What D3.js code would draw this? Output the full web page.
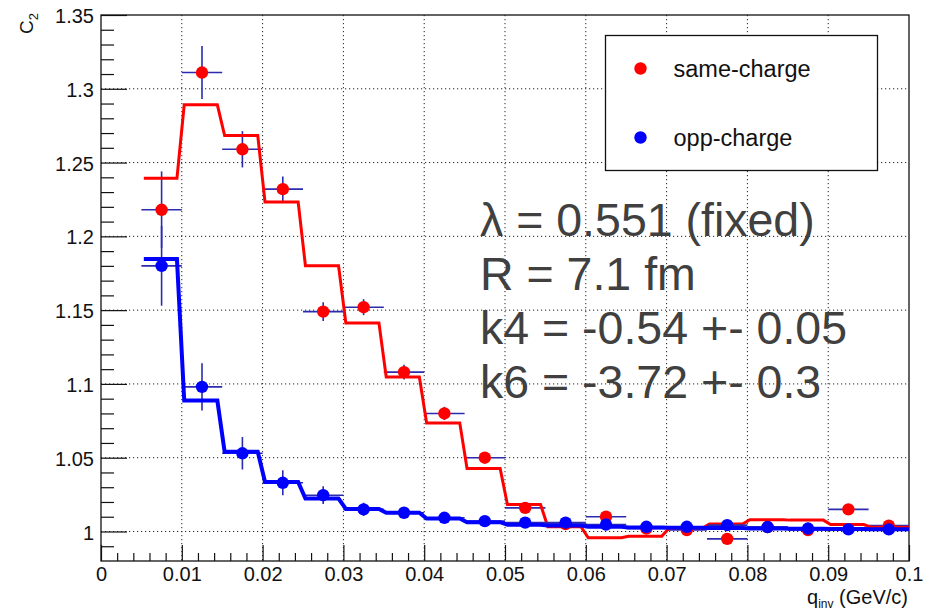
<!DOCTYPE html>
<html>
<head>
<meta charset="utf-8">
<script src="https://cdn.jsdelivr.net/npm/d3@7"></script>
<style>
  body { margin: 0; background: #fff; }
  text { font-family: "Liberation Sans", Arial, Helvetica, sans-serif; }
</style>
</head>
<body>
<svg id="chart" width="937" height="612"></svg>
<script>
// ---- data -------------------------------------------------------------
// q_inv bin centres (GeV/c); each bin is 0.005 wide
const qCenters = [0.0075, 0.0125, 0.0175, 0.0225, 0.0275, 0.0325, 0.0375, 0.0425, 0.0475,
                  0.0525, 0.0575, 0.0625, 0.0675, 0.0725, 0.0775, 0.0825, 0.0875, 0.0925, 0.0975];
const binHalfWidth = 0.0025;

// measured C2, same-charge pairs
const sameCharge    = [1.218, 1.311, 1.259, 1.232, 1.149, 1.152, 1.108, 1.080, 1.050,
                       1.016, 1.005, 1.010, 1.002, 1.001, 0.995, 1.003, 1.001, 1.015, 1.004];
const sameChargeErr = [0.026, 0.018, 0.0123, 0.0085, 0.0064, 0.0054, 0.005, 0.0045, 0.0035,
                       0.003, 0.003, 0.003, 0.003, 0.003, 0.003, 0.003, 0.003, 0.003, 0.003];

// measured C2, opposite-charge pairs
const oppCharge     = [1.180, 1.098, 1.053, 1.033, 1.0246, 1.015, 1.0127, 1.0093, 1.007,
                       1.006, 1.006, 1.0047, 1.0032, 1.0032, 1.0043, 1.003, 1.002, 1.0014, 1.0014];
const oppChargeErr  = [0.027, 0.016, 0.011, 0.0085, 0.006, 0.0045, 0.0035, 0.003, 0.0025,
                       0.002, 0.002, 0.002, 0.002, 0.002, 0.002, 0.002, 0.002, 0.002, 0.002];

// fitted correlation function, evaluated per bin (edges below)
const fitEdges = [0.005, 0.010, 0.015, 0.020, 0.025, 0.030, 0.035, 0.040, 0.045, 0.050,
                  0.055, 0.060, 0.065, 0.070, 0.075, 0.080, 0.085, 0.090, 0.095, 0.100];
const sameFit = [1.2394, 1.2891, 1.2683, 1.2232, 1.1801, 1.1413, 1.1047, 1.0736, 1.0427,
                 1.0183, 1.0032, 0.9957, 0.9968, 1.0022, 1.0050, 1.0079, 1.0077, 1.0047, 1.0029];
const oppFit  = [1.1846, 1.0887, 1.0540, 1.0336, 1.0223, 1.0153, 1.0127, 1.0088, 1.0063,
                 1.0045, 1.0040, 1.0032, 1.0027, 1.0025, 1.0023, 1.0021, 1.0019, 1.0017, 1.0015];

// axis ticks
const xTicks = [0, 0.01, 0.02, 0.03, 0.04, 0.05, 0.06, 0.07, 0.08, 0.09, 0.1];
const yTicks = [1, 1.05, 1.1, 1.15, 1.2, 1.25, 1.3, 1.35];
const xDomain = [0, 0.1];
const yDomain = [0.98, 1.35];

const legendLabels = ["same-charge", "opp-charge"];
const fitResults = ["λ = 0.551 (fixed)", "R = 7.1 fm", "k4 = -0.54 +- 0.05", "k6 = -3.72 +- 0.3"];

// ---- layout -----------------------------------------------------------
const svg = d3.select("#chart");
const W = 937, H = 612;
const margin = { left: 101, top: 15, right: 28, bottom: 51 };
const iw = W - margin.left - margin.right;
const ih = H - margin.top - margin.bottom;

svg.append("rect").attr("width", W).attr("height", H).attr("fill", "#fff");

const x = d3.scaleLinear().domain(xDomain).range([0, iw]);
const y = d3.scaleLinear().domain(yDomain).range([ih, 0]);

const g = svg.append("g").attr("transform", `translate(${margin.left},${margin.top})`);

const fmt = d3.format("~g");

// dotted grid at the major ticks
const grid = g.append("g").attr("stroke", "#222").attr("stroke-width", 1)
  .attr("stroke-dasharray", "1.2,2.8");
grid.selectAll("line.gx").data(xTicks.filter(t => t > xDomain[0] && t < xDomain[1]))
  .join("line").attr("class", "gx")
  .attr("x1", d => x(d)).attr("x2", d => x(d)).attr("y1", 0).attr("y2", ih);
grid.selectAll("line.gy").data(yTicks.filter(t => t > yDomain[0] && t < yDomain[1]))
  .join("line").attr("class", "gy")
  .attr("y1", d => y(d)).attr("y2", d => y(d)).attr("x1", 0).attr("x2", iw);

// minor ticks (inside the frame)
const xMinor = d3.range(0, 0.1 + 1e-9, 0.002).filter(v => Math.abs(v * 100 - Math.round(v * 100)) > 1e-6);
const yMinor = d3.range(0.99, 1.35, 0.01).filter(v => Math.abs(v * 20 - Math.round(v * 20)) > 1e-6);

g.append("g").attr("transform", `translate(0,${ih})`)
  .call(d3.axisBottom(x).tickValues(xMinor).tickSize(-8).tickFormat(""))
  .call(a => a.select(".domain").remove())
  .call(a => a.selectAll("line").attr("stroke", "#111").attr("stroke-width", 1.2));
g.append("g")
  .call(d3.axisLeft(y).tickValues(yMinor).tickSize(-13).tickFormat(""))
  .call(a => a.select(".domain").remove())
  .call(a => a.selectAll("line").attr("stroke", "#111").attr("stroke-width", 1.2));

// major ticks + labels
g.append("g").attr("transform", `translate(0,${ih})`)
  .call(d3.axisBottom(x).tickValues(xTicks).tickSize(-16).tickPadding(6).tickFormat(fmt))
  .call(a => a.select(".domain").remove())
  .call(a => a.selectAll("line").attr("stroke", "#111").attr("stroke-width", 1.2))
  .call(a => a.selectAll("text").attr("font-size", 20).attr("fill", "#111")
                .attr("font-family", "'Liberation Sans', Arial, sans-serif"));
g.append("g")
  .call(d3.axisLeft(y).tickValues(yTicks).tickSize(-26).tickPadding(7).tickFormat(fmt))
  .call(a => a.select(".domain").remove())
  .call(a => a.selectAll("line").attr("stroke", "#111").attr("stroke-width", 1.2))
  .call(a => a.selectAll("text").attr("font-size", 20).attr("fill", "#111").attr("dy", "0.38em")
                .attr("font-family", "'Liberation Sans', Arial, sans-serif"));

// frame
g.append("rect").attr("width", iw).attr("height", ih)
  .attr("fill", "none").attr("stroke", "#111").attr("stroke-width", 1.3);

// ---- series -----------------------------------------------------------
const errColor = "#2b2bb0";

// step curve for a fit evaluated per bin, with short ramps at the bin edges
function stepPoints(levels) {
  const before = 0.0006, after = 0.0003;
  const pts = [[fitEdges[0] + after, levels[0]]];
  for (let i = 1; i < levels.length; i++) {
    pts.push([fitEdges[i] - before, levels[i - 1]]);
    pts.push([fitEdges[i] + after, levels[i]]);
  }
  pts.push([fitEdges[fitEdges.length - 1], levels[levels.length - 1]]);
  return pts;
}
const line = d3.line().x(d => x(d[0])).y(d => y(d[1]));

function drawSeries(values, errs, fit, color, fitWidth) {
  const s = g.append("g");
  const rows = qCenters.map((q, i) => ({ q, v: values[i], e: errs[i] }));
  s.selectAll("line.h").data(rows).join("line").attr("class", "h")
    .attr("x1", d => x(d.q - binHalfWidth)).attr("x2", d => x(d.q + binHalfWidth))
    .attr("y1", d => y(d.v)).attr("y2", d => y(d.v))
    .attr("stroke", errColor).attr("stroke-width", 1.6);
  s.selectAll("line.v").data(rows).join("line").attr("class", "v")
    .attr("x1", d => x(d.q)).attr("x2", d => x(d.q))
    .attr("y1", d => y(d.v - d.e)).attr("y2", d => y(d.v + d.e))
    .attr("stroke", errColor).attr("stroke-width", 1.6);
  s.selectAll("circle").data(rows).join("circle")
    .attr("cx", d => x(d.q)).attr("cy", d => y(d.v)).attr("r", 6.2)
    .attr("fill", color);
  s.append("path").datum(stepPoints(fit)).attr("d", line)
    .attr("fill", "none").attr("stroke", color).attr("stroke-width", fitWidth)
    .attr("stroke-linejoin", "miter");
}

drawSeries(sameCharge, sameChargeErr, sameFit, "#ff0000", 3);
drawSeries(oppCharge, oppChargeErr, oppFit, "#0000ff", 4);

// ---- legend -----------------------------------------------------------
const legend = svg.append("g").attr("transform", "translate(605.5,35.5)");
legend.append("rect").attr("width", 272).attr("height", 135)
  .attr("fill", "#fff").attr("stroke", "#111").attr("stroke-width", 1.3);
const legendColors = ["#ff0000", "#0000ff"];
legendLabels.forEach((lab, i) => {
  const ly = 33 + i * 69;
  legend.append("circle").attr("cx", 35).attr("cy", ly).attr("r", 6.2).attr("fill", legendColors[i]);
  legend.append("text").attr("x", 68).attr("y", ly).attr("dy", "0.35em")
    .attr("font-size", 23.5).attr("fill", "#111").text(lab);
});

// ---- fit results ------------------------------------------------------
const stats = svg.append("g").attr("fill", "#404040").attr("font-size", 46.5);
fitResults.forEach((t, i) => {
  stats.append("text").attr("x", 480).attr("y", 235.5 + i * 54.3)
    .attr("xml:space", "preserve").style("white-space", "pre").text(t);
});

// ---- axis titles ------------------------------------------------------
const xt = svg.append("text").attr("x", 908).attr("y", 603.5).attr("text-anchor", "end")
  .attr("font-size", 20).attr("fill", "#111");
xt.append("tspan").text("q");
xt.append("tspan").attr("font-size", 12).attr("dy", 4.5).text("inv");
xt.append("tspan").attr("dy", -4.5).text(" (GeV/c)");

const yt = svg.append("text").attr("transform", "translate(33,13) rotate(-90)")
  .attr("text-anchor", "end").attr("font-size", 19).attr("fill", "#111");
yt.append("tspan").text("C");
yt.append("tspan").attr("font-size", 13).attr("dy", 5).text("2");
</script>
</body>
</html>
